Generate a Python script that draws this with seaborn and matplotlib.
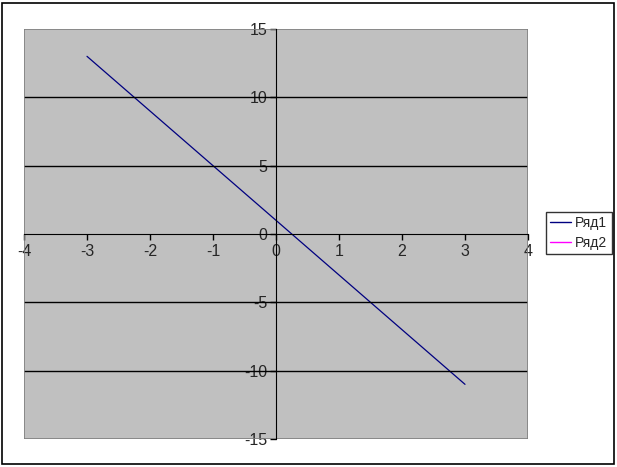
import numpy as np
import pandas as pd
import seaborn as sns
import matplotlib.pyplot as plt
from matplotlib.patches import Rectangle

# data for the two series
x_vals = [-3, -2, -1, 0, 1, 2, 3]
row1 = [13, 9, 5, 1, -3, -7, -11]
row2 = [np.nan] * 7
series_names = ['Ряд1', 'Ряд2']
x_ticks = [-4, -3, -2, -1, 0, 1, 2, 3, 4]
y_ticks = [-15, -10, -5, 0, 5, 10, 15]

sns.set_style('white')
plt.rcParams['font.family'] = ['Liberation Sans', 'DejaVu Sans']

fig = plt.figure(figsize=(6.17, 4.67), dpi=100)
ax = fig.add_axes([24 / 617, 1 - 439 / 467, 504 / 617, 410 / 467])
ax.set_facecolor('#c0c0c0')

# chart frame
fig.patches.append(Rectangle((2 / 617, 1 - 464 / 467), 612 / 617, 461 / 467,
                             transform=fig.transFigure, fill=False,
                             edgecolor='black', linewidth=1.2))

df = pd.DataFrame({'x': x_vals * 2, 'y': row1 + row2,
                   'series': [series_names[0]] * 7 + [series_names[1]] * 7})
sns.lineplot(data=df, x='x', y='y', hue='series',
             palette=['#000080', '#ff00ff'], linewidth=0.9, ax=ax, legend=False)

ax.set_xlim(-4, 4)
ax.set_ylim(-15, 15)
for v in [-10, -5, 5, 10]:
    ax.axhline(v, color='black', linewidth=1)

ax.spines['left'].set_position(('data', 0))
ax.spines['bottom'].set_position(('data', 0))
ax.spines['left'].set_color('black')
ax.spines['bottom'].set_color('black')
ax.spines['left'].set_zorder(3)
ax.spines['bottom'].set_zorder(3)
for s in ['top', 'right']:
    ax.spines[s].set_visible(False)
ax.add_patch(Rectangle((0, 0), 1, 1, transform=ax.transAxes, fill=False,
                       edgecolor='#808080', linewidth=1.2, zorder=2))

ax.set_xticks(x_ticks)
ax.set_yticks(y_ticks)
ax.set_xticklabels([str(t) for t in x_ticks])
ax.set_yticklabels([str(t) for t in y_ticks])
ax.tick_params(axis='both', direction='out', length=4, width=1, color='black',
               labelsize=11.5, bottom=True, left=True)
ax.tick_params(axis='x', pad=3)
ax.tick_params(axis='y', pad=2)
ax.set_xlabel('')
ax.set_ylabel('')

handles = [plt.Line2D([], [], color='#000080', lw=1),
           plt.Line2D([], [], color='#ff00ff', lw=1)]
leg = fig.legend(handles, series_names, loc='center left',
                 bbox_to_anchor=(546 / 617, 1 - 233 / 467), frameon=True,
                 fancybox=False, edgecolor='black', fontsize=10,
                 handlelength=1.5, handletextpad=0.3, borderpad=0.3,
                 labelspacing=0.4, borderaxespad=0)
leg.get_frame().set_linewidth(1)

fig.savefig('out.png', dpi=100)
